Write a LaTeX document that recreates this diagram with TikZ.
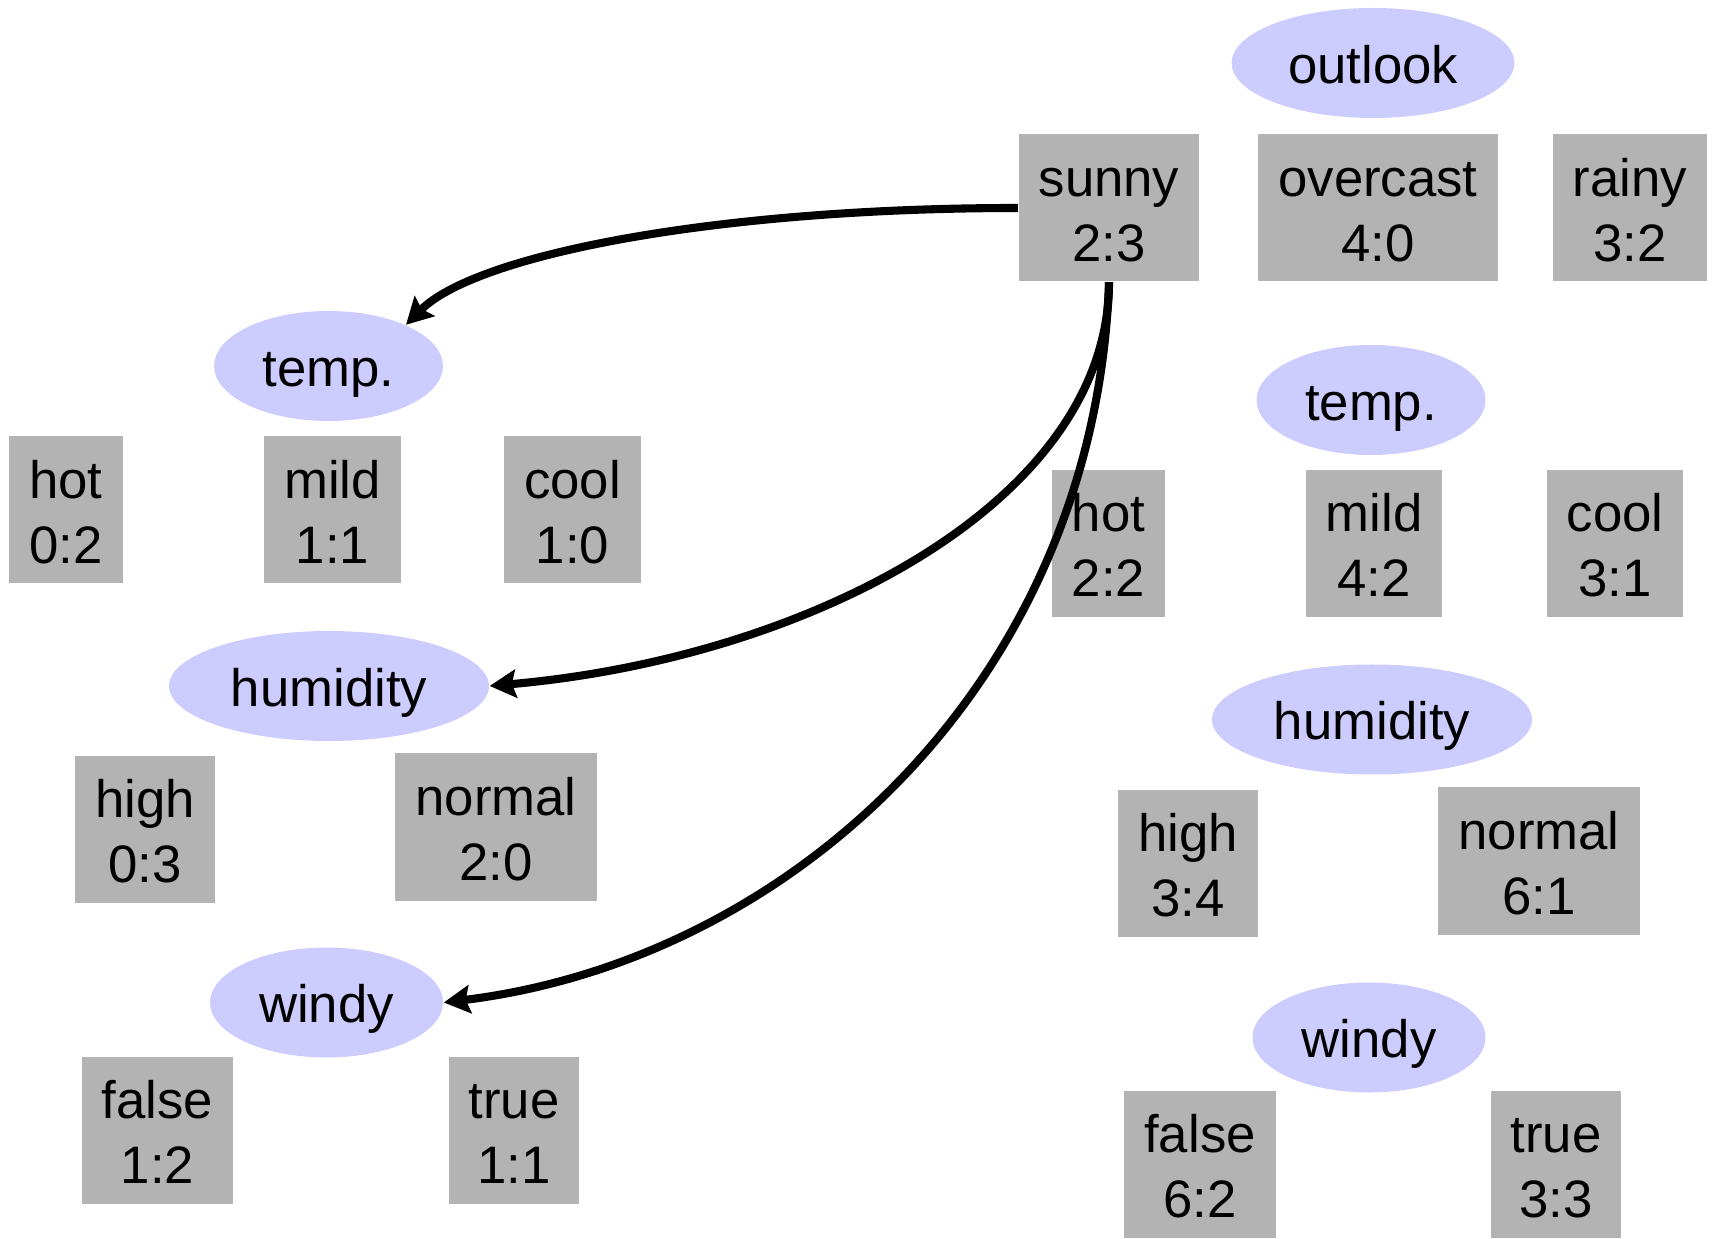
\documentclass[tikz,border=0pt]{standalone}
\usepackage{fontspec}
\setmainfont{Liberation Sans}
\usetikzlibrary{arrows.meta,shapes.geometric}
\definecolor{boxgray}{RGB}{179,179,179}
\definecolor{attrblue}{RGB}{204,204,255}
\newcommand{\tally}[2]{\rule{0pt}{11.9pt}#1\\#2}
\tikzset{
	attr/.style={ellipse, fill=attrblue, inner xsep=0.15cm, minimum height=1.1cm, text height=11.4pt, text depth=0pt},
	valbox/.style={rectangle, fill=boxgray, inner xsep=0.2cm, inner ysep=0pt, minimum height=1.47cm, align=center},
	flow/.style={line width=2.3pt, -{Stealth[length=7.5pt, width=8pt, inset=1.2pt]}}
}

\begin{document}
\begin{tikzpicture}[font=\fontsize{15}{18.5}\selectfont]
			%%%%% START %%%%%
			\useasboundingbox (0, 0) rectangle (17.12, 12.38);
			
			% root split
			\node[attr] (outlook) at (13.73, 11.75) {outlook};
			\node[valbox] (sunny) at (11.09, 10.30) {\tally{sunny}{2:3}};
			\node[valbox] (overcast) at (13.78, 10.30) {\tally{overcast}{4:0}};
			\node[valbox] (rainy) at (16.30, 10.30) {\tally{rainy}{3:2}};
			
			% counts below sunny
			\node[attr] (tempL) at (3.285, 8.72) {temp.};
			\node[valbox] (hotL) at (0.66, 7.28) {\tally{hot}{0:2}};
			\node[valbox] (mildL) at (3.325, 7.28) {\tally{mild}{1:1}};
			\node[valbox] (coolL) at (5.725, 7.28) {\tally{cool}{1:0}};
			
			\node[attr] (humL) at (3.29, 5.52) {humidity};
			\node[valbox] (highL) at (1.45, 4.085) {\tally{high}{0:3}};
			\node[valbox] (normalL) at (4.96, 4.11) {\tally{normal}{2:0}};
			
			\node[attr] (windyL) at (3.265, 2.355) {windy};
			\node[valbox] (falseL) at (1.575, 1.075) {\tally{false}{1:2}};
			\node[valbox] (trueL) at (5.14, 1.075) {\tally{true}{1:1}};
			
			% counts for all data
			\node[attr] (tempR) at (13.71, 8.38) {temp.};
			\node[valbox] (hotR) at (11.085, 6.945) {\tally{hot}{2:2}};
			\node[valbox] (mildR) at (13.74, 6.945) {\tally{mild}{4:2}};
			\node[valbox] (coolR) at (16.15, 6.945) {\tally{cool}{3:1}};
			
			\node[attr] (humR) at (13.72, 5.185) {humidity};
			\node[valbox] (highR) at (11.88, 3.745) {\tally{high}{3:4}};
			\node[valbox] (normalR) at (15.39, 3.77) {\tally{normal}{6:1}};
			
			\node[attr] (windyR) at (13.69, 2.005) {windy};
			\node[valbox] (falseR) at (12.00, 0.735) {\tally{false}{6:2}};
			\node[valbox] (trueR) at (15.56, 0.735) {\tally{true}{3:3}};
			
			\draw[flow] (sunny.west) to[out=180, in=45, out distance=3cm, in distance=1cm] (tempL.28);
			\draw[flow] (sunny.south) to[out=-90, in=5, out distance=2.2cm, in distance=3.2cm] (humL.east);
			\draw[flow] (sunny.south) to[out=-92, in=7, out distance=4cm, in distance=3.5cm] (windyL.east);
			
			%%%%% END %%%%%
\end{tikzpicture}
\end{document}
